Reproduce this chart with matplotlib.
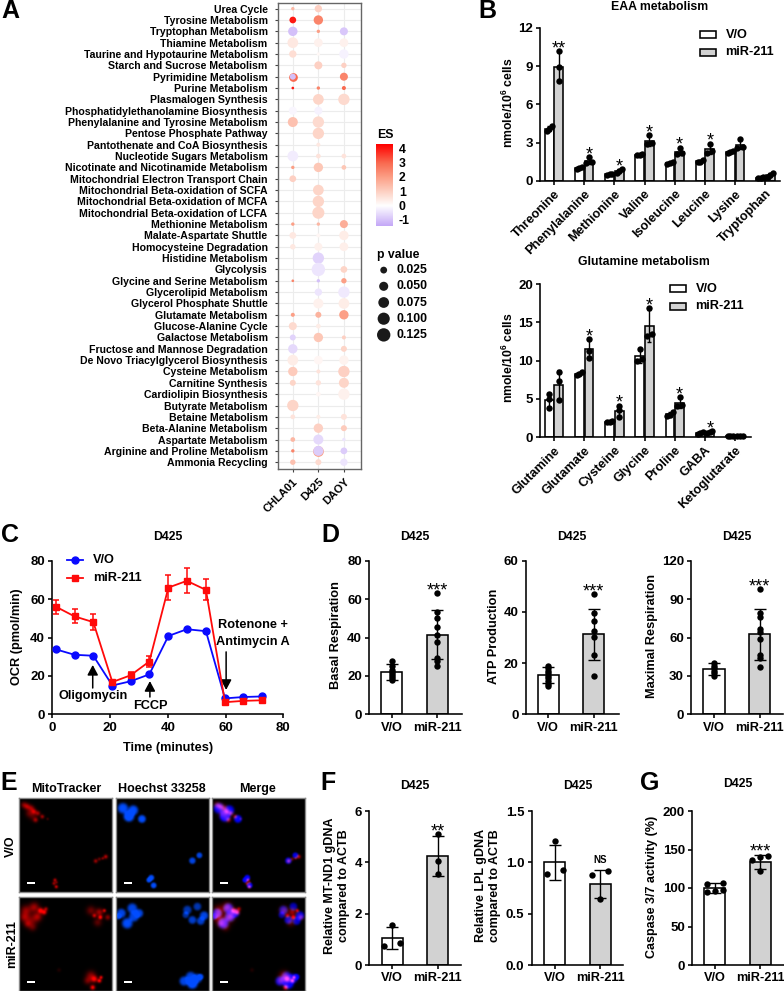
import numpy as np
import matplotlib
matplotlib.use('Agg')
import matplotlib.pyplot as plt
from matplotlib.colors import LinearSegmentedColormap, Normalize
from matplotlib.patches import Rectangle

plt.rcParams['font.family'] = ['Liberation Sans', 'DejaVu Sans']
plt.rcParams['font.weight'] = 'bold'
plt.rcParams['axes.unicode_minus'] = False
plt.rcParams['mathtext.fontset'] = 'custom'
plt.rcParams['mathtext.bf'] = 'Liberation Sans:bold'
plt.rcParams['mathtext.rm'] = 'Liberation Sans:bold'

W, H = 784, 991
N = float('nan')

# ---- panel A data
pathways = ['Urea Cycle', 'Tyrosine Metabolism', 'Tryptophan Metabolism', 'Thiamine Metabolism',
            'Taurine and Hypotaurine Metabolism', 'Starch and Sucrose Metabolism', 'Pyrimidine Metabolism',
            'Purine Metabolism', 'Plasmalogen Synthesis', 'Phosphatidylethanolamine Biosynthesis',
            'Phenylalanine and Tyrosine Metabolism', 'Pentose Phosphate Pathway',
            'Pantothenate and CoA Biosynthesis', 'Nucleotide Sugars Metabolism',
            'Nicotinate and Nicotinamide Metabolism', 'Mitochondrial Electron Transport Chain',
            'Mitochondrial Beta-oxidation of SCFA', 'Mitochondrial Beta-oxidation of MCFA',
            'Mitochondrial Beta-oxidation of LCFA', 'Methionine Metabolism', 'Malate-Aspartate Shuttle',
            'Homocysteine Degradation', 'Histidine Metabolism', 'Glycolysis', 'Glycine and Serine Metabolism',
            'Glycerolipid Metabolism', 'Glycerol Phosphate Shuttle', 'Glutamate Metabolism',
            'Glucose-Alanine Cycle', 'Galactose Metabolism', 'Fructose and Mannose Degradation',
            'De Novo Triacylglycerol Biosynthesis', 'Cysteine Metabolism', 'Carnitine Synthesis',
            'Cardiolipin Biosynthesis', 'Butyrate Metabolism', 'Betaine Metabolism', 'Beta-Alanine Metabolism',
            'Aspartate Metabolism', 'Arginine and Proline Metabolism', 'Ammonia Recycling']
cell_lines = ['CHLA01', 'D425', 'DAOY']
es_chla01 = [1.5, 4, -1, .5, .7, N, -1, 4, N, -.15, 1.3, N, N, -.3, 2, 1, N, N, N, 2, .5, .5, N, N, 2.5, N, N,
             2, .8, -.7, -.6, .4, 1.1, .9, N, .9, .6, N, 1.5, 2.5, 1.3]
p_chla01 = [.004, .024, .054, .074, .03, N, .018, .002, N, .037, .063, N, N, .074, .004, .024, N, N, N, .004,
            .024, .014, N, N, .002, N, N, .0065, .037, .018, .054, .074, .054, .018, N, .085, .0097, N, .0097,
            .004, .014]
es_d425 = [1, 2.5, 2, .3, .15, 1, N, 2.5, .9, -.2, .8, .9, .5, .6, 1.2, N, .9, .9, .9, 1.5, .2, .3, -.7, -.4,
           -1, -.4, .3, 1.6, .4, 1.2, N, .2, .6, .6, .2, N, .4, 1, -.6, -.8, .8]
p_d425 = [.03, .054, .004, .045, .004, .037, N, .004, .074, .037, .085, .085, .0065, .0097, .054, N, .074, .085,
          .098, .004, .0065, .037, .085, .125, .004, .03, .063, .018, .0097, .054, N, .045, .0065, .0136, .0097,
          N, .0065, .054, .063, .063, .018]
es_daoy = [N, N, -.9, .3, -.2, 1, 2.5, 3, .8, N, N, N, N, .6, 1.2, N, N, N, N, 1.7, .4, .35, N, .9, 2, -.35, .4,
           2, N, 1, .9, .25, 1, .9, .3, N, .6, 1.1, -.4, -.8, -.4]
p_daoy = [N, N, .037, .045, .054, .0136, .037, .0065, .085, N, N, N, N, .0097, .0097, N, N, N, N, .037, .054,
          .045, N, .024, .0136, .085, .074, .054, N, .0065, .018, .054, .085, .063, .085, N, .018, .018, .004,
          .024, .03]
# spots with a second dot drawn under the main one: (pathway, cell line, ES, p)
under_spots = [('Pyrimidine Metabolism', 0, 3, .045), ('Arginine and Proline Metabolism', 1, 2, .074)]
es_ticks = [4, 3, 2, 1, 0, -1]
p_legend = [.025, .05, .075, .1, .125]

# ---- panel B data, three replicates per group
eaa_names = ['Threonine', 'Phenylalanine', 'Methionine', 'Valine', 'Isoleucine', 'Leucine', 'Lysine', 'Tryptophan']
eaa_vo = [[3.9, 4.1, 4.3], [.95, 1, 1.1], [.45, .5, .55], [2, 2.05, 2.1], [1.35, 1.4, 1.45], [1.45, 1.5, 1.6],
          [2.2, 2.25, 2.3], [.2, .25, .3]]
eaa_mir = [[7.8, 8.9, 10.2], [1.4, 1.5, 1.85], [.6, .8, .9], [2.9, 2.95, 3.6], [2.1, 2.15, 2.6], [2.2, 2.3, 2.9],
           [2.6, 2.65, 3.25], [.3, .45, .6]]
eaa_stars = ['**', '*', '*', '*', '*', '*', '', '']
gln_names = ['Glutamine', 'Glutamate', 'Cysteine', 'Glycine', 'Proline', 'GABA', 'Ketoglutarate']
gln_vo = [[3.8, 5, 5.6], [8.1, 8.3, 8.5], [1.9, 2, 2.1], [10, 10.2, 11.5], [2.7, 2.9, 3.3], [.4, .5, .6],
          [.1, .12, .14]]
gln_mir = [[4.8, 7.3, 8.5], [10.3, 11.3, 12.8], [2.6, 3.6, 4.1], [13.2, 13.5, 16.9], [4, 4.2, 5.2], [.55, .7, .8],
           [.1, .12, .15]]
gln_stars = ['', '*', '*', '*', '*', '*', '']

# ---- panel C data
ocr_time = [1.3, 7.7, 14.2, 20.8, 27.1, 33.6, 40.2, 46.6, 53.2, 59.8, 66.2, 72.6]
ocr_vo = [33.8, 31, 30.5, 15, 17.2, 20.8, 40.8, 44.3, 43.3, 8.3, 9, 9.3]
ocr_vo_err = [.5, .5, .5, .5, .5, .5, .7, .7, .7, .4, .4, .4]
ocr_mir = [56, 51, 48, 16.8, 20.3, 27.5, 66, 69.5, 64.8, 6.3, 7, 7.3]
ocr_mir_err = [3.5, 3.7, 4, .8, 1.5, 3, 6.5, 6.5, 5.5, .5, .5, .5]

# ---- panels D, F, G data
group_names = ['V/O', 'miR-211']
basal_vo = [18, 19, 20, 21, 22, 23, 25, 28]
basal_mir = [25, 28, 29.5, 37.5, 41.5, 45.5, 50, 53.5, 63]
basal_mean, basal_sd = [22, 41.5], [4, 12.6]
atp_vo = [11, 12, 13, 14, 15, 16, 17, 18, 19]
atp_mir = [14.8, 23, 30.3, 32.7, 36.5, 39.5, 47]
atp_mean, atp_sd = [15.3, 31.2], [3, 9.9]
max_vo = [30, 32, 34, 36, 38, 40]
max_mir = [36.7, 43.8, 46.4, 58.6, 64.6, 67, 75.8, 79, 97.7]
max_mean, max_sd = [35.7, 62.5], [4.7, 19.9]
mtnd1_vo = [.75, .85, 1.55]
mtnd1_mir = [3.55, 4.05, 5.1]
mtnd1_mean, mtnd1_sd = [1.04, 4.25], [.43, .77]
lpl_vo = [.89, .93, 1.21]
lpl_mir = [.64, .88, .92]
lpl_mean, lpl_sd = [1, .79], [.17, .135]
casp_vo = [95, 96, 98, 105, 107]
casp_mir = [122, 137, 140, 141]
casp_mean, casp_sd = [100, 134], [6.5, 9.5]

# ---- panel E: bright spots of the micrographs, (x, y, radius, weight) on a 0-280 frame
vo_blue = [(20, 30, 16, 1), (51, 36, 15, 1), (38, 54, 16, 1.2), (77, 62, 12, 1), (249, 171, 9, .9), (228, 187, 10, .9),
           (105, 238, 9, 1), (98, 245, 8, 1), (112, 261, 9, 1)]
vo_red = [(14, 20, 9, .45), (24, 25, 9, .6), (36, 30, 9, .55), (44, 40, 8, .7), (56, 45, 7, .55), (69, 55, 6, .6),
          (49, 65, 7, .55), (30, 45, 11, .35), (85, 62, 4, .25), (42, 55, 12, .25), (229, 188, 6, .6), (240, 182, 5, .4),
          (259, 175, 6, .7), (250, 180, 4, .5), (107, 245, 5, .7), (104, 255, 5, .6), (111, 265, 5, .8), (112, 252, 4, .4)]
mir_blue = [(15, 48, 14, .9), (48, 33, 15, .9), (68, 48, 13, .9), (33, 78, 16, 1), (53, 58, 15, .9), (6, 58, 9, .8),
            (213, 38, 13, .7), (243, 28, 12, .7), (263, 55, 13, .9), (228, 68, 12, .8), (253, 71, 12, .8),
            (208, 53, 10, .6), (223, 238, 15, .9), (243, 243, 14, .9), (203, 251, 14, .9), (228, 258, 16, 1.2),
            (253, 238, 9, .8)]
mir_red = [(20, 40, 15, .55), (45, 30, 14, .6), (64, 40, 8, 1), (75, 45, 7, .9), (35, 70, 18, .45), (55, 58, 13, .6),
           (15, 60, 13, .5), (40, 90, 11, .3), (80, 35, 6, .6), (25, 80, 10, .4), (215, 40, 13, .4), (240, 45, 11, .6),
           (255, 40, 5, .8), (243, 60, 6, 1), (225, 55, 6, .7), (265, 60, 8, .5), (235, 75, 12, .35), (215, 235, 14, .5),
           (225, 245, 9, .9), (240, 250, 6, 1), (220, 270, 7, 1), (245, 240, 5, .9), (205, 250, 11, .4), (119, 218, 6, .12)]
stain_titles = ['MitoTracker', 'Hoechst 33258', 'Merge']

FS = 8.8
GREY = '#d2d2d2'
LW = 1.15

es_cmap = LinearSegmentedColormap.from_list('es', [(0, '#c4a8f7'), (1.4 / 5.7, '#ffffff'), (2.4 / 5.7, '#fdd0c2'),
                                                   (3.4 / 5.7, '#fc9f86'), (4.4 / 5.7, '#f96a50'), (1, '#ff0000')])
es_norm = Normalize(-1.4, 4.3)


def px_axes(x0, ytop, x1, ybot):
    return fig.add_axes([x0 / W, 1 - ybot / H, (x1 - x0) / W, (ybot - ytop) / H])


def dot_size(p):
    r = (19 / 3) * (np.asarray(p, dtype=float) / .125) ** .45 + .35
    return (2 * r * 72 / 100) ** 2


def style(ax, ymax, yticks, ylabels=None):
    ax.set_ylim(0, ymax)
    ax.set_yticks(yticks)
    if ylabels:
        ax.set_yticklabels(ylabels)
    ax.spines[['top', 'right']].set_visible(False)
    ax.spines[['left', 'bottom']].set_linewidth(LW)
    ax.tick_params(width=LW, length=3.2, labelsize=FS + .7, pad=2)
    ax.patch.set_alpha(0)


def spread(vals, xc, px_unit, px_x, thr, step):
    # points at nearly the same height go side by side
    vals = sorted(vals)
    groups = [[vals[0]]]
    for v in vals[1:]:
        if (v - groups[-1][-1]) * px_unit < thr:
            groups[-1].append(v)
        else:
            groups.append([v])
    xs, ys = [], []
    for g in groups:
        off = np.linspace(-step, step, len(g)) if len(g) > 1 else [0]
        xs += [xc + o / px_x for o in off]
        ys += g
    return xs, ys


def bar_group(ax, x, pts, mean, sd, color, width, px_unit, px_x, thr, step, cap, ms=4.6):
    ax.bar(x, mean, width, color=color, edgecolor='black', linewidth=LW, zorder=2)
    ax.errorbar(x, mean, yerr=sd, color='black', lw=1.0, capsize=cap, capthick=1.0, zorder=3)
    xs, ys = spread(pts, x, px_unit, px_x, thr, step)
    ax.plot(xs, ys, 'o', color='black', ms=ms, mew=0, zorder=4, clip_on=False)


def star(ax, x, top, txt, dy=8.5):
    ax.annotate(txt, (x, top), xytext=(0, (dy - 10.6) * .72), textcoords='offset points', ha='center',
                va='baseline', fontsize=13, fontweight='normal', annotation_clip=False)


def grouped(ytop, ybot, x1, ymax, yticks, names, vo, mir, stars):
    sp = 30.2
    ax = px_axes(540, ytop, x1, ybot)
    px_unit = (ybot - ytop) / ymax
    for i in range(len(names)):
        for pts, off, col in [(vo[i], -.16, 'white'), (mir[i], .16, GREY)]:
            bar_group(ax, i + off, pts, np.mean(pts), np.std(pts, ddof=1), col, .29, px_unit, sp, 3.5, 2.6, 1.6)
        if stars[i]:
            star(ax, i + .16, max(mir[i]), stars[i])
    ax.set_xlim((540 - 554) / sp, (x1 - 554) / sp)
    style(ax, ymax, yticks)
    ax.set_xticks(range(len(names)))
    ax.set_xticklabels(names, rotation=45, ha='right', rotation_mode='anchor', fontsize=FS + .4)
    return ax


def two_bar(x0, x1, c0, ytop, ybot, ymax, yticks, vo, mir, mean, sd, txt, thr=1.5, step=0, ylabels=None):
    sp = 45.5
    ax = px_axes(x0, ytop, x1, ybot)
    px_unit = (ybot - ytop) / ymax
    for i, (pts, col) in enumerate([(vo, 'white'), (mir, GREY)]):
        bar_group(ax, i, pts, mean[i], sd[i], col, .47, px_unit, sp, thr, step, 4.2)
    top = max(max(mir), mean[1] + sd[1])
    if txt == 'NS':
        ax.annotate(txt, (1, top), xytext=(0, 7), textcoords='offset points', ha='center', va='center', fontsize=7)
    else:
        star(ax, 1, top, txt)
    ax.set_xlim((x0 - c0) / sp, (x1 - c0) / sp)
    style(ax, ymax, yticks, ylabels)
    ax.set_xticks([0, 1])
    ax.set_xticklabels(group_names, fontsize=FS + .4)
    return ax


fig = plt.figure(figsize=(W / 100, H / 100), dpi=100)

# ---- panel A
ax = px_axes(278, 3, 360.5, 469)
rows = np.arange(len(pathways))
ax.grid(True, color='#ececec', lw=.8)
ax.set_axisbelow(True)
for name, cell, es, p in under_spots:
    ax.scatter(cell, pathways.index(name), s=dot_size(p), color=es_cmap(es_norm(es)), lw=0, zorder=2)
for j, (es, p) in enumerate([(es_chla01, p_chla01), (es_d425, p_d425), (es_daoy, p_daoy)]):
    ax.scatter(np.full(len(rows), j), rows, s=dot_size(p), c=es, cmap=es_cmap, norm=es_norm, lw=0, zorder=3)
ax.set_xlim(-.58, 2.65)
ax.set_ylim(40.6, -.5)
ax.set_yticks(rows)
ax.set_yticklabels(pathways, fontsize=7.55)
ax.set_xticks(range(3))
ax.set_xticklabels(cell_lines, rotation=45, ha='right', rotation_mode='anchor', fontsize=8)
ax.tick_params(color='#444444', length=2.5, width=.8, pad=5)
ax.tick_params(axis='x', pad=3)
for s in ax.spines.values():
    s.set_color('#666666')
    s.set_linewidth(1)

# colour bar for ES
cax = px_axes(375.7, 144, 392, 225.7)
cax.imshow(np.linspace(4.3, -1.4, 200)[:, None], aspect='auto', cmap=es_cmap, norm=es_norm,
           extent=[0, 1, -1.4, 4.3])
cax.set_xticks([])
cax.yaxis.tick_right()
cax.set_yticks(es_ticks)
cax.tick_params(length=0, labelsize=FS, pad=5)
for s in cax.spines.values():
    s.set_visible(False)

# size legend for p value
lax = px_axes(376.7, 262, 411.7, 343)
lax.scatter(np.zeros(5), p_legend, s=dot_size(p_legend), color='#1a1a1a', lw=0, clip_on=False)
lax.set_xlim(-.25, 1)
lax.set_ylim(.1375, .0125)
lax.axis('off')
for p in p_legend:
    lax.text(.475, p, '%.3f' % p, fontsize=FS, va='center', ha='left')

# ---- panel B
grouped(28, 180.7, 780, 12, [0, 3, 6, 9, 12], eaa_names, eaa_vo, eaa_mir, eaa_stars)
grouped(284.3, 437, 750.7, 20, [0, 5, 10, 15, 20], gln_names, gln_vo, gln_mir, gln_stars)

# ---- panel C
ax = px_axes(52.3, 560.7, 283.3, 714.3)
ax.errorbar(ocr_time, ocr_vo, yerr=ocr_vo_err, color='#0a0aff', marker='o', ms=5, lw=1.3, capsize=2.4, capthick=1.1,
            elinewidth=1.1, zorder=3)
ax.errorbar(ocr_time, ocr_mir, yerr=ocr_mir_err, color='#ff0a0a', marker='s', ms=4.8, lw=1.3, capsize=2.4,
            capthick=1.1, elinewidth=1.1, zorder=4)
ax.set_xlim(0, 80)
ax.set_xticks(range(0, 81, 20))
style(ax, 80, range(0, 81, 20))
arrow = dict(arrowstyle='-|>,head_width=.32,head_length=.6', color='black', lw=1.1, shrinkA=0, shrinkB=0)
ax.annotate('', xy=(14, 25.7), xytext=(14, 13.7), arrowprops=arrow)
ax.annotate('', xy=(33.8, 17.3), xytext=(33.8, 9), arrowprops=arrow)
ax.annotate('', xy=(60.2, 12.7), xytext=(60.2, 32.5), arrowprops=arrow)

# ---- panel D
two_bar(369, 461.7, 391.7, 560.7, 714.3, 80, [0, 20, 40, 60, 80], basal_vo, basal_mir, basal_mean, basal_sd, '***')
two_bar(525.7, 619, 548.3, 560.7, 714.3, 60, [0, 20, 40, 60], atp_vo, atp_mir, atp_mean, atp_sd, '***')
two_bar(691, 782.7, 714, 560.7, 714.3, 120, [0, 30, 60, 90, 120], max_vo, max_mir, max_mean, max_sd, '***')

# ---- panel F, G
two_bar(369.3, 460.7, 392.3, 811, 965, 6, [0, 2, 4, 6], mtnd1_vo, mtnd1_mir, mtnd1_mean, mtnd1_sd, '**', thr=6, step=8)
two_bar(531.7, 623.3, 554.8, 811, 965, 1.5, [0, .5, 1, 1.5], lpl_vo, lpl_mir, lpl_mean, lpl_sd, 'NS', thr=6, step=8,
        ylabels=['0.0', '0.5', '1.0', '1.5'])
two_bar(692.3, 784, 714.7, 811, 965, 200, [0, 50, 100, 150, 200], casp_vo, casp_mir, casp_mean, casp_sd, '***',
        thr=4, step=8)


# ---- panel E
def channel(spots, sharp):
    g = np.linspace(0, 280, 188)
    xx, yy = np.meshgrid(g, g)
    out = np.zeros_like(xx)
    for x, y, r, w in spots:
        out += w * np.exp(-(((xx - x) ** 2 + (yy - y) ** 2) / r ** 2) ** sharp)
    return np.clip(out, 0, 1)


col_x = [18.7, 115.7, 212]
row_y = [798.3, 897.3]
for r, (red_spots, blue_spots) in enumerate([(vo_red, vo_blue), (mir_red, mir_blue)]):
    red = channel(red_spots, 1)
    blue = channel(blue_spots, 2)
    empty = np.zeros_like(red)
    images = [np.dstack([red, empty, empty]),
              np.dstack([empty, blue * .3, blue]),
              np.dstack([red, np.minimum(red, blue) * .3, blue])]
    for c, img in enumerate(images):
        iax = px_axes(col_x[c], row_y[r], col_x[c] + 93.3, row_y[r] + 93.3)
        iax.imshow(img, extent=[0, 280, 280, 0], interpolation='bilinear', aspect='auto')
        iax.add_patch(Rectangle((24, 252), 24, 5, color='white', lw=0))
        iax.set_xticks([])
        iax.set_yticks([])
        for s in iax.spines.values():
            s.set_color('#888888')
            s.set_linewidth(1)

# ---- all loose texts, in pixel positions
over = fig.add_axes([0, 0, 1, 1], zorder=20)
over.set_xlim(0, W)
over.set_ylim(H, 0)
over.axis('off')


def txt(x, y, s, size=FS, ha='center', rot=0, weight='bold'):
    over.text(x, y, s, fontsize=size, ha=ha, va='center', rotation=rot, fontweight=weight)


for x, y, s in [(10, 11, 'A'), (487, 11, 'B'), (10, 535, 'C'), (330, 535, 'D'), (9, 783, 'E'), (328, 783, 'F'),
                (650, 783, 'G')]:
    txt(x, y, s, size=18)

txt(377, 135, 'ES', ha='left', size=FS)
txt(377, 255, 'p value', ha='left', size=FS)
txt(660, 7, 'EAA metabolism')
txt(644, 261.7, 'Glutamine metabolism')
for y0, xl in [(34.7, 700), (288.7, 670)]:
    for k, (lab, col) in enumerate(zip(group_names, ['white', GREY])):
        over.add_patch(Rectangle((xl, y0 - 3.5 + k * 17.4), 16.5, 7, fc=col, ec='black', lw=LW))
        txt(xl + 25.5, y0 + k * 17.4, lab, ha='left', size=FS + .4)
for y in [103, 358]:
    txt(508, y, r'nmole/$\mathbf{10^6}$ cells', rot=90)

txt(168, 536.7, 'D425')
txt(17, 636.7, 'OCR (pmol/min)', rot=90, size=FS + .4)
txt(168, 748, 'Time (minutes)', size=FS + .4)
for y, col, mk, lab in [(560, '#0a0aff', 'o', 'V/O'), (578, '#ff0a0a', 's', 'miR-211')]:
    over.plot([67.3, 82.7], [y, y], color=col, lw=1.3)
    over.plot([75], [y], color=col, marker=mk, ms=5)
    txt(93, y, lab, ha='left', size=FS + .4)
txt(93, 695.7, 'Oligomycin', size=FS + .4)
txt(150, 706, 'FCCP', size=FS + .4)
txt(253, 625, 'Rotenone +', size=FS + .4)
txt(253, 641.7, 'Antimycin A', size=FS + .4)

for x, y in [(415, 536.7), (571.7, 536.7), (736.7, 536.7), (415.3, 786.3), (577.7, 786.3), (737.7, 784.3)]:
    txt(x, y, 'D425')
txt(336, 635, 'Basal Respiration', rot=90, size=FS + .4)
txt(494, 636.7, 'ATP Production', rot=90, size=FS + .4)
txt(651.7, 636, 'Maximal Respiration', rot=90, size=FS + .4)
txt(336.7, 885.7, 'Relative MT-ND1 gDNA\ncompared to ACTB', rot=90, size=FS + .2)
txt(488, 885.7, 'Relative LPL gDNA\ncompared to ACTB', rot=90, size=FS + .2)
txt(651.7, 886.7, 'Caspase 3/7 activity (%)', rot=90, size=FS + .2)
for x, s in zip([66.7, 162.3, 257.3], stain_titles):
    txt(x, 789, s, size=FS + .2)
txt(10.7, 845.7, 'V/O', rot=90, size=FS + .2)
txt(11.7, 944, 'miR-211', rot=90, size=FS + .2)

fig.savefig('out.png', dpi=100)
